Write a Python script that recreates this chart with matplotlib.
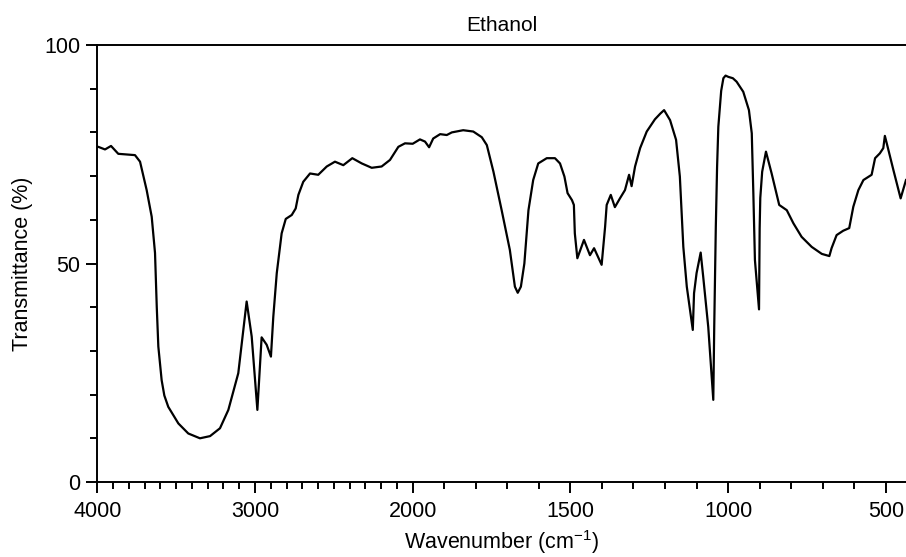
import numpy as np
import matplotlib
matplotlib.use("Agg")
import matplotlib.pyplot as plt
from matplotlib.ticker import FixedLocator

plt.rcParams['font.family'] = ['Liberation Sans', 'DejaVu Sans']
plt.rcParams['mathtext.fontset'] = 'custom'
plt.rcParams['mathtext.rm'] = 'Liberation Sans'
plt.rcParams['mathtext.default'] = 'regular'

title = "Ethanol"
xlabel = "Wavenumber (cm$^{-1}$)"
ylabel = "Transmittance (%)"

wavenumber = [4000, 3994, 3951, 3913, 3890, 3867, 3761, 3729, 3687, 3655, 3634, 3623, 3613,
              3592, 3575, 3550, 3486, 3423, 3349, 3285, 3222, 3169, 3106, 3053, 3021, 2985,
              2958, 2926, 2899, 2884, 2862, 2831, 2805, 2767, 2742, 2725, 2694, 2651,
              2599, 2545, 2493, 2440, 2383, 2323, 2260, 2197, 2144, 2091, 2049, 2000,
              1977, 1961, 1948, 1935, 1913, 1892, 1876, 1840, 1808, 1781, 1765, 1744,
              1718, 1692, 1676, 1667, 1657, 1646, 1633, 1618, 1602, 1575, 1549, 1533,
              1519, 1509, 1495, 1489, 1486, 1478, 1457, 1438, 1425, 1401, 1390, 1385,
              1372, 1359, 1343, 1327, 1314, 1306, 1295, 1279, 1258, 1232, 1215, 1203, 1184,
              1165, 1153, 1142, 1131, 1112, 1108, 1100, 1087, 1079, 1063, 1047, 1044,
              1039, 1035, 1031, 1022, 1015, 1008, 999, 985, 973, 952, 934, 925, 920, 915, 902,
              900, 898, 892, 880, 862, 838, 814, 793, 767, 735, 703, 679, 672, 656, 635, 616,
              603, 587, 571, 545, 534, 519, 508, 503, 497, 476, 453, 436]
transmittance = [76.7, 76.7, 76.1, 76.9, 76.0, 75.1, 74.8, 73.3, 66.8, 60.7, 52.4, 40.1, 31.0,
                 23.3, 19.8, 17.2, 13.4, 11.1, 10.0, 10.5, 12.3, 16.5, 24.9, 41.3, 33.3, 16.5,
                 33.1, 31.4, 28.7, 37.8, 47.8, 56.9, 60.2, 61.1, 62.6, 65.7, 68.7, 70.6,
                 70.3, 72.2, 73.3, 72.5, 74.1, 72.9, 71.9, 72.2, 73.7, 76.7, 77.5, 77.4,
                 78.4, 77.9, 76.6, 78.6, 79.6, 79.4, 80.0, 80.5, 80.2, 78.9, 77.1, 71.0,
                 62.2, 53.1, 44.7, 43.3, 44.7, 50.0, 62.2, 69.1, 72.9, 74.1, 74.1, 72.9,
                 69.9, 66.1, 64.5, 63.4, 56.9, 51.2, 55.4, 51.9, 53.5, 49.7, 58.4, 63.4,
                 65.7, 62.9, 64.9, 66.8, 70.3, 67.7, 72.2, 76.4, 80.2, 83.0, 84.3, 85.1, 82.8,
                 78.3, 69.9, 53.8, 44.7, 34.8, 43.2, 47.8, 52.5, 47.0, 35.5, 18.8, 35.5,
                 58.4, 72.0, 81.3, 89.5, 92.4, 93.0, 92.7, 92.4, 91.6, 89.3, 85.1, 79.8, 66.1, 50.8, 39.5,
                 58.0, 65.0, 71.0, 75.6, 70.6, 63.4, 62.2, 59.2, 56.1, 53.8, 52.2, 51.7, 53.5, 56.5,
                 57.5, 58.1, 63.0, 66.8, 69.1, 70.3, 74.1, 75.2, 76.4, 79.2, 77.5, 71.4, 64.9, 69.1]

x_major = [4000, 3000, 2000, 1500, 1000, 500]
x_major_labels = ["4000", "3000", "2000", "1500", "1000", "500"]
y_major = [0, 50, 100]


def fwd(x):
    x = np.asarray(x, dtype=float)
    return np.where(x >= 2000, x, 2 * x - 2000)


def inv(u):
    u = np.asarray(u, dtype=float)
    return np.where(u >= 2000, u, (u + 2000) / 2)


fig = plt.figure(figsize=(9.06, 5.57), dpi=100)
ax = fig.add_axes([97.3 / 906, 1 - 482 / 557, (906 - 97.3) / 906, (482 - 45) / 557])
ax.set_xscale('function', functions=(fwd, inv))
ax.plot(wavenumber, transmittance, color='black', lw=1.6, solid_joinstyle='round')
ax.set_xlim(4000, 436)
ax.set_ylim(0, 100)

ax.xaxis.set_major_locator(FixedLocator(x_major))
ax.set_xticklabels(x_major_labels)
ax.xaxis.set_minor_locator(FixedLocator([v for v in range(500, 4000, 100) if v not in x_major]))
ax.yaxis.set_major_locator(FixedLocator(y_major))
ax.yaxis.set_minor_locator(FixedLocator([v for v in range(10, 100, 10) if v not in y_major]))

ax.tick_params(axis='both', which='major', direction='out', length=8, width=1.4,
               labelsize=15.5, color='black')
ax.tick_params(axis='both', which='minor', direction='out', length=5, width=1.4, color='black')
ax.tick_params(axis='x', which='major', pad=6)
ax.tick_params(axis='y', which='major', pad=4)

for s in ['left', 'bottom', 'top']:
    ax.spines[s].set_linewidth(1.4)
ax.spines['right'].set_visible(False)

ax.set_title(title, fontsize=15, pad=10)
ax.set_xlabel(xlabel, fontsize=15.5, labelpad=4)
ax.set_ylabel(ylabel, fontsize=15.5, labelpad=8)

fig.savefig("out.png", dpi=100)
